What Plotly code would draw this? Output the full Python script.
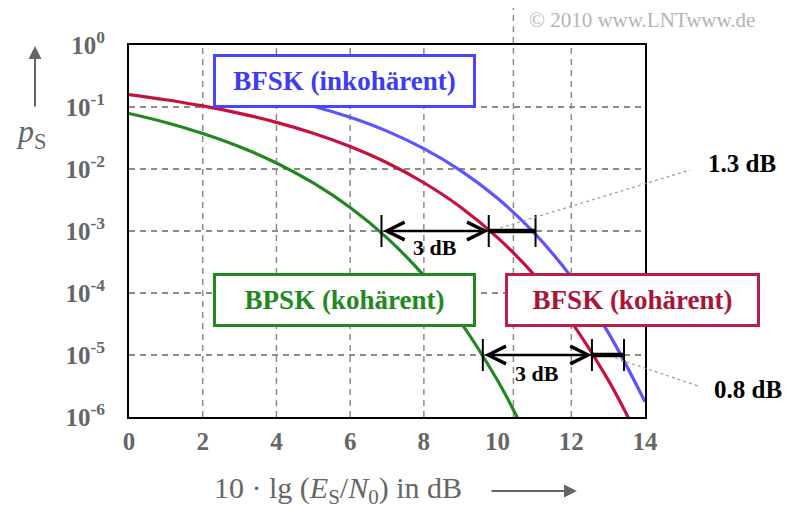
import math
import plotly.graph_objects as go

# ---------------- data ----------------
bpsk_x = [0, 1, 2, 3, 4, 5, 6, 7, 8, 9, 10, 10.5, 11]
bpsk_p = [0.0786, 0.0563, 0.0375, 0.0229, 0.0125, 0.00595, 0.00239,
          7.73e-4, 1.91e-4, 3.36e-5, 3.87e-6, 1.08e-6, 2.6e-7]

bfsk_coh_x = [0, 1, 2, 3, 4, 5, 6, 7, 8, 9, 10, 11, 12, 13, 13.5, 14]
bfsk_coh_p = [0.1587, 0.1309, 0.104, 0.0789, 0.0565, 0.0377, 0.0230, 0.0126,
              0.0060, 0.00242, 7.83e-4, 1.94e-4, 3.43e-5, 3.97e-6, 1.11e-6, 2.7e-7]

bfsk_inc_x = [3, 4, 5, 6, 7, 8, 9, 10, 11, 12, 13, 14]
bfsk_inc_p = [0.1844, 0.1424, 0.1029, 0.0683, 0.0408, 0.0213,
              0.00942, 0.00337, 9.23e-4, 1.81e-4, 2.32e-5, 1.76e-6]

x_ticks = [0, 2, 4, 6, 8, 10, 12, 14]
x_ticktext = ["0", "2", "4", "6", "8", "10", "12", "14"]
y_ticks = [1, 1e-1, 1e-2, 1e-3, 1e-4, 1e-5, 1e-6]
y_ticktext = ["10<sup>0</sup>", "10<sup>-1</sup>", "10<sup>-2</sup>", "10<sup>-3</sup>",
              "10<sup>-4</sup>", "10<sup>-5</sup>", "10<sup>-6</sup>"]
x_grid = [2, 4, 6, 8, 12]
x_long_line = 10.43          # dashed line that runs up to the top edge

# crossing points of the curves (green, red, blue) at two error levels
upper_level = 1e-3
upper_x = [6.85, 9.76, 11.03]
lower_level = 1e-5
lower_x = [9.60, 12.56, 13.43]
upper_labels = ["3 dB", "1.3 dB"]
lower_labels = ["3 dB", "0.8 dB"]

# ---------------- styling ----------------
SERIF = "Liberation Serif"
RED = "rgb(200,16,60)"
GREEN = "rgb(34,136,34)"
BLUE = "rgb(92,84,255)"
BLUE_TXT = "rgb(60,60,240)"
GRAY = "#666666"
GRID = "#8c8c8c"

OFF = 8                      # page body margin
W, H = 792 - OFF, 513 - OFF
L, T = 129 - OFF, 45 - OFF
PW, PH = 516, 372
R, B = W - L - PW, H - T - PH


def pyv(v):            # value -> paper y
    return (math.log10(v) + 6) / 6


def ppx(px):           # screen pixel x -> paper x
    return (px - OFF - L) / PW


def ppy(py):           # screen pixel y -> paper y
    return 1 - (py - OFF - T) / PH


def label(x, y, text, size, color, **kw):
    d = dict(x=ppx(x), y=ppy(y), xref="paper", yref="paper", showarrow=False,
             xanchor="center", yanchor="middle", text=text,
             font=dict(family=SERIF, size=size, color=color))
    d.update(kw)
    return d


fig = go.Figure()
fig.add_trace(go.Scatter(x=bfsk_coh_x, y=bfsk_coh_p, mode="lines",
                         line=dict(color=RED, width=3.2, shape="spline"), hoverinfo="skip"))
fig.add_trace(go.Scatter(x=bpsk_x, y=bpsk_p, mode="lines",
                         line=dict(color=GREEN, width=3.2, shape="spline"), hoverinfo="skip"))
fig.add_trace(go.Scatter(x=bfsk_inc_x, y=bfsk_inc_p, mode="lines",
                         line=dict(color=BLUE, width=3.2, shape="spline"), hoverinfo="skip"))

shapes = []
for gx in x_grid:
    shapes.append(dict(type="line", xref="x", yref="paper", x0=gx, x1=gx, y0=0, y1=1,
                       line=dict(color=GRID, width=1.5, dash="6px,5px"), layer="below"))
shapes.append(dict(type="line", xref="x", yref="paper", x0=x_long_line, x1=x_long_line,
                   y0=0, y1=1 + T / PH, line=dict(color=GRID, width=1.5, dash="6px,5px"),
                   layer="below"))

annotations = []
tick_h = 16 / PH
for level, xs, labels, ysh in ((upper_level, upper_x, upper_labels, -16),
                               (lower_level, lower_x, lower_labels, -18)):
    yp = pyv(level)
    for cx in xs:
        shapes.append(dict(type="line", xref="x", yref="paper", x0=cx, x1=cx,
                           y0=yp - tick_h, y1=yp + tick_h, line=dict(color="black", width=2)))
    shapes.append(dict(type="line", xref="x", yref="paper", x0=xs[1], x1=xs[2],
                       y0=yp, y1=yp, line=dict(color="black", width=4.5)))
    annotations.append(dict(x=xs[1], y=math.log10(level), ax=xs[0], ay=math.log10(level),
                            xref="x", yref="y", axref="x", ayref="y", text="",
                            showarrow=True, arrowside="end+start", arrowhead=5,
                            arrowsize=1.4, arrowwidth=2.5, arrowcolor="black"))
    annotations.append(dict(x=(xs[0] + xs[1]) / 2, y=math.log10(level), xref="x", yref="y",
                            xanchor="center", yanchor="middle",
                            yshift=ysh, text="<b>" + labels[0] + "</b>", showarrow=False,
                            font=dict(family=SERIF, size=22, color="black")))

# dotted leader lines and gap labels
shapes.append(dict(type="line", xref="paper", yref="paper", x0=ppx(500), y0=ppy(228),
                   x1=ppx(690), y1=ppy(170), line=dict(color="#9a9a9a", width=1.2, dash="dot")))
shapes.append(dict(type="line", xref="paper", yref="paper", x0=ppx(615), y0=ppy(358),
                   x1=ppx(698), y1=ppy(386), line=dict(color="#9a9a9a", width=1.2, dash="dot")))
annotations.append(label(742, 164, "<b>" + upper_labels[1] + "</b>", 25, "black"))
annotations.append(label(748, 389, "<b>" + lower_labels[1] + "</b>", 25, "black"))

# legend boxes
for txt, col, bcol, cx, cy, w in (("BFSK (inkohärent)", BLUE_TXT, "rgb(70,70,255)", 344.5, 81, 257),
                                  ("BPSK (kohärent)", GREEN, GREEN, 344.5, 299.5, 257),
                                  ("BFSK (kohärent)", "rgb(170,20,55)", "rgb(185,30,70)", 632.5, 299.5, 249)):
    annotations.append(label(cx, cy, "<b>" + txt + "</b>", 27, col, width=w, height=48,
                             align="center", bgcolor="white", bordercolor=bcol,
                             borderwidth=3, borderpad=0))

# axis titles with arrows
annotations.append(label(338, 490, "10 · lg (<i>E</i><sub>S</sub>/<i>N</i><sub>0</sub>) in dB",
                         30, GRAY))
annotations.append(dict(x=ppx(577), y=ppy(491), xref="paper", yref="paper", ax=-87, ay=0,
                        text="", showarrow=True, arrowhead=2, arrowsize=1.3, arrowwidth=2,
                        arrowcolor=GRAY))
annotations.append(label(31, 133, "<i>p</i><sub>S</sub>", 32, GRAY))
annotations.append(dict(x=ppx(35), y=ppy(46), xref="paper", yref="paper", ax=0, ay=62,
                        text="", showarrow=True, arrowhead=2, arrowsize=1.3, arrowwidth=2,
                        arrowcolor=GRAY))
annotations.append(label(642, 20, "© 2010 www.LNTwww.de", 21, "#b4b4b4"))

tickfont = dict(family=SERIF, size=25, color=GRAY, weight="bold")
fig.update_layout(
    width=W, height=H, autosize=False,
    margin=dict(l=L, r=R, t=T, b=B, pad=0),
    paper_bgcolor="white", plot_bgcolor="white",
    showlegend=False,
    shapes=shapes, annotations=annotations,
    xaxis=dict(range=[0, 14], tickvals=x_ticks, ticktext=x_ticktext, showgrid=False,
               zeroline=False, showline=True, mirror=True, linecolor="black", linewidth=2,
               ticks="outside", ticklen=1, tickcolor="rgba(0,0,0,0)", tickfont=tickfont,
               automargin=False),
    yaxis=dict(type="log", range=[-6, 0], tickvals=y_ticks, ticktext=y_ticktext,
               showgrid=True, gridcolor=GRID, gridwidth=1.5, griddash="6px,5px",
               zeroline=False, showline=True, mirror=True, linecolor="black", linewidth=2,
               ticks="outside", ticklen=17, tickcolor="rgba(0,0,0,0)", tickfont=tickfont,
               automargin=False),
)
fig.write_html("out.html", config={"displayModeBar": False})
